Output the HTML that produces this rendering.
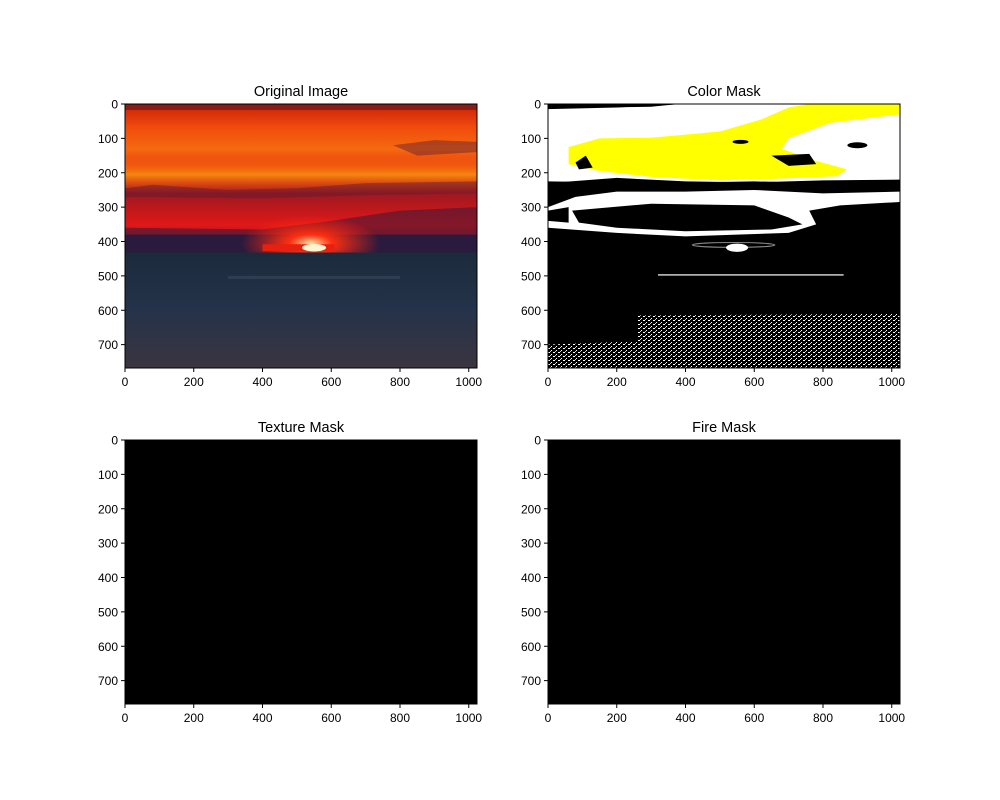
<!DOCTYPE html>
<html><head><meta charset="utf-8"><style>
body{margin:0;background:#fff}
svg{display:block;font-family:"Liberation Sans","DejaVu Sans",sans-serif}
</style></head><body>
<svg id="fig" width="1000" height="800" viewBox="0 0 1000 800">
<defs>
<linearGradient id="sky" x1="0" y1="0" x2="0" y2="1">
<stop offset="0" stop-color="#c8200a"/><stop offset="0.15" stop-color="#f04a0c"/>
<stop offset="0.3" stop-color="#f56a10"/><stop offset="0.45" stop-color="#e8280c"/>
<stop offset="0.6" stop-color="#a01820"/><stop offset="0.8" stop-color="#e01818"/>
<stop offset="1" stop-color="#451a3a"/></linearGradient>
<linearGradient id="sea" x1="0" y1="0" x2="0" y2="1">
<stop offset="0" stop-color="#1c2a3c"/><stop offset="0.5" stop-color="#25334a"/>
<stop offset="1" stop-color="#3a3440"/></linearGradient>
<radialGradient id="glow" cx="0.5" cy="0.5" r="0.5">
<stop offset="0" stop-color="#ffe0a0"/><stop offset="0.3" stop-color="#ff3010"/><stop offset="1" stop-color="#ff2010" stop-opacity="0"/></radialGradient>
<linearGradient id="gold" x1="0" y1="0" x2="0" y2="1">
<stop offset="0" stop-color="#f07010" stop-opacity="0"/><stop offset="0.5" stop-color="#ffb010" stop-opacity="0.7"/><stop offset="1" stop-color="#f07010" stop-opacity="0"/></linearGradient>
<pattern id="speck" width="5" height="4" patternUnits="userSpaceOnUse">
<rect width="5" height="4" fill="#000"/><rect x="0" y="0" width="2" height="1" fill="#fff"/><rect x="3" y="2" width="1" height="1" fill="#fff"/><rect x="2" y="3" width="1" height="1" fill="#ccc"/></pattern>
</defs>
<g id="axes-root"></g>
</svg>
<script>
const panelTitles = ["Original Image","Color Mask","Texture Mask","Fire Mask"];
const xTicks = [0,200,400,600,800,1000];
const yTicks = [0,100,200,300,400,500,600,700];
const imgW = 1024, imgH = 768;
const origins = [[125,104],[548,104],[125,440],[548,440]];
const W = 352, H = 264;
const NS = "http://www.w3.org/2000/svg";
const root = document.getElementById('axes-root');
function mk(tag, attrs, parent){const e=document.createElementNS(NS,tag);for(const k in attrs)e.setAttribute(k,attrs[k]);(parent||root).appendChild(e);return e;}
function sx(v){return v/imgW*W;}
function sy(v){return v/imgH*H;}
function poly(pts){return 'M'+pts.map(p=>sx(p[0])+' '+sy(p[1])).join(' L')+'Z';}
panelTitles.forEach((t,i)=>{
  const [ox,oy]=origins[i];
  const g=mk('g',{transform:`translate(${ox},${oy})`});
  
  
  const img=mk('g',{},g);
  
  
  if(i===0){
    mk('rect',{x:0,y:0,width:W,height:sy(440),fill:'url(#sky)'},img);
    mk('rect',{x:0,y:sy(150),width:W,height:sy(110),fill:'url(#gold)'},img);
    mk('rect',{x:0,y:0,width:W,height:6,fill:'#5a1820',opacity:0.6},img);
    mk('path',{d:poly([[0,245],[80,235],[300,250],[500,245],[700,230],[1024,225],[1024,260],[700,265],[400,275],[0,270]]),fill:'#5a1a30',opacity:0.45},img);
    mk('path',{d:poly([[780,120],[900,105],[1024,110],[1024,140],[850,150]]),fill:'#5a1a30',opacity:0.45},img);
    mk('path',{d:poly([[0,360],[400,365],[600,340],[800,310],[1024,300],[1024,440],[0,440]]),fill:'#3a1838',opacity:0.55},img);
    mk('rect',{x:0,y:sy(380),width:W,height:sy(55),fill:'#2a1a3e'},img);
    mk('ellipse',{cx:sx(540),cy:sy(405),rx:70,ry:28,fill:'url(#glow)'},img);
    mk('rect',{x:sx(400),y:sy(408),width:sx(210),height:sy(20),fill:'#e82010'},img);
    mk('ellipse',{cx:sx(550),cy:sy(418),rx:sx(35),ry:sy(11),fill:'#fff4d0'},img);
    mk('rect',{x:0,y:sy(432),width:W,height:H-sy(432),fill:'url(#sea)'},img);
    mk('rect',{x:sx(300),y:sy(500),width:sx(500),height:3,fill:'#4a5468',opacity:0.4},img);
  } else if(i===1){
    mk('rect',{x:0,y:0,width:W,height:H,fill:'#000'},img);
    // white top sky
    mk('path',{d:poly([[0,15],[200,10],[400,0],[1024,0],[1024,225],[800,230],[600,225],[300,230],[0,225]]),fill:'#fff'},img);
    mk('path',{d:poly([[0,0],[380,0],[300,8],[0,12]]),fill:'#000'},img);
    // yellow
    mk('path',{d:poly([[60,125],[150,100],[300,98],[500,80],[620,45],[700,10],[760,0],[1024,0],[1024,30],[820,55],[700,100],[680,130],[760,160],[870,190],[840,210],[650,218],[500,222],[300,212],[150,195],[60,175]]),fill:'#ffff00'},img);
    // dark blobs in yellow
    mk('path',{d:poly([[80,170],[110,150],[130,185],[90,190]]),fill:'#000'},img);
    mk('path',{d:poly([[650,150],[760,145],[780,175],[700,180]]),fill:'#000'},img);
    mk('ellipse',{cx:sx(560),cy:sy(110),rx:8,ry:2,fill:'#000'},img);
    mk('ellipse',{cx:sx(900),cy:sy(120),rx:10,ry:3,fill:'#000'},img);
    // black below yellow
    mk('path',{d:poly([[0,230],[200,215],[400,225],[600,228],[800,222],[1024,220],[1024,250],[700,260],[400,255],[200,255],[0,265]]),fill:'#000'},img);
    // white band
    mk('path',{d:poly([[0,300],[80,270],[200,255],[400,255],[600,250],[800,260],[1024,255],[1024,285],[850,295],[760,310],[780,350],[700,375],[400,385],[200,375],[0,360]]),fill:'#fff'},img);
    mk('path',{d:poly([[70,310],[300,290],[600,295],[700,330],[740,350],[650,365],[400,370],[200,360],[90,345]]),fill:'#000'},img);
    mk('path',{d:poly([[0,310],[60,300],[60,345],[0,340]]),fill:'#000'},img);
    mk('ellipse',{cx:sx(540),cy:sy(410),rx:sx(120),ry:sy(7),fill:'none',stroke:'#888','stroke-width':1},img);
    mk('ellipse',{cx:sx(550),cy:sy(418),rx:sx(32),ry:sy(12),fill:'#fff'},img);
    mk('rect',{x:sx(320),y:sy(495),width:sx(540),height:1.5,fill:'#ccc'},img);
    mk('path',{d:poly([[260,615],[1024,610],[1024,768],[0,768],[0,700],[260,690]]),fill:'url(#speck)'},img);
  } else {
    mk('rect',{x:0,y:0,width:W,height:H,fill:'#000'},img);
  }
  mk('rect',{x:0,y:0,width:W,height:H,fill:'none',stroke:'#000','stroke-width':1},g);
  const ti=mk('text',{x:W/2,y:-8,'text-anchor':'middle','font-size':14.5,fill:'#000'},g);
  ti.textContent=t;
  
  
  xTicks.forEach(v=>{
    const x=sx(v);
    mk('line',{x1:x,x2:x,y1:H,y2:H+4,stroke:'#000'},g);
    const tx=mk('text',{x:x,y:H+18,'text-anchor':'middle','font-size':12},g);
    tx.textContent=v;
    
    
  });
  yTicks.forEach(v=>{
    const y=sy(v);
    mk('line',{x1:-4,x2:0,y1:y,y2:y,stroke:'#000'},g);
    const ty=mk('text',{x:-7,y:y+4.5,'text-anchor':'end','font-size':12},g);
    ty.textContent=v;
    
    
  });
});
</script>
</body></html>
